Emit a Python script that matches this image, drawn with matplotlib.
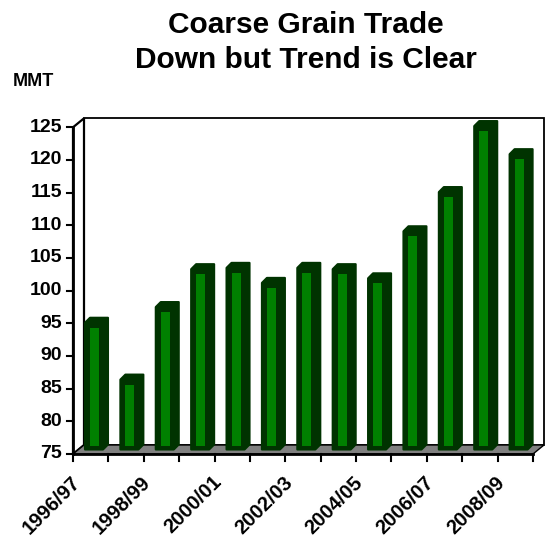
import numpy as np
import matplotlib.pyplot as plt
from matplotlib.patches import Polygon, Rectangle

plt.rcParams['font.family'] = ['Liberation Sans', 'DejaVu Sans']
plt.rcParams['font.weight'] = 'bold'

seasons = ['1996/97', '1997/98', '1998/99', '1999/00', '2000/01', '2001/02', '2002/03',
           '2003/04', '2004/05', '2005/06', '2006/07', '2007/08', '2008/09']
trade = [94.4, 85.7, 96.8, 102.6, 102.8, 100.5, 102.8, 102.6, 101.2, 108.4, 114.4, 124.5, 120.2]
yticks = [75, 80, 85, 90, 95, 100, 105, 110, 115, 120, 125]

dark = '#003300'
bright = '#008000'

fig = plt.figure(figsize=(5.46, 5.39), dpi=100)
ax = fig.add_axes([73/546, 1-454/539, 460/546, 326.7/539])
n = len(seasons)
ax.set_xlim(-0.5, n-0.5)
ax.set_ylim(75, 125)
ax.axis('off')

# pixel -> data scale factors
px_x = n / 460.0
px_y = 50 / 326.7
dxf, dyf = 11*px_x, 9*px_y      # full depth of the box

x0, x1 = -0.5, n-0.5
# back wall
ax.add_patch(Polygon([(x0+dxf, 75+dyf), (x0+dxf, 125+dyf), (x1+dxf, 125+dyf), (x1+dxf, 75+dyf)],
                     closed=True, fc='white', ec='black', lw=1.3, clip_on=False, zorder=1))
# left wall
ax.add_patch(Polygon([(x0, 75), (x0, 125), (x0+dxf, 125+dyf), (x0+dxf, 75+dyf)],
                     closed=True, fc='white', ec='black', lw=1.6, clip_on=False, zorder=1))
# floor
ax.add_patch(Polygon([(x0, 75), (x1, 75), (x1+dxf, 75+dyf), (x0+dxf, 75+dyf)],
                     closed=True, fc='#808080', ec='black', lw=1.0, clip_on=False, zorder=2))
ax.plot([x0, x1], [75, 75], color='black', lw=2, clip_on=False, zorder=6)
ax.plot([x0, x0], [75, 125], color='black', lw=2, clip_on=False, zorder=6)

# bars at mid depth
sx, sy = 3.3*px_x, 4.5*px_y
w = 18*px_x
cx, cy = 5*px_x, 5*px_y
for i, v in enumerate(trade):
    l = i + sx - w/2
    r = l + w
    b = 75 + sy
    t = v + sy
    sil = [(l, b), (l, t), (l+cx, t+cy), (r+cx, t+cy), (r+cx, b+cy), (r, b)]
    ax.add_patch(Polygon(sil, closed=True, fc=dark, ec=dark, lw=1.5, joinstyle='round',
                         clip_on=False, zorder=3))
    ax.add_patch(Rectangle((l+5*px_x, b+3*px_y), 9*px_x, (t-5*px_y)-(b+3*px_y),
                           fc=bright, ec='none', clip_on=False, zorder=4))

# y ticks
for yt in yticks:
    ax.plot([x0-6*px_x, x0], [yt, yt], color='black', lw=1.5, clip_on=False, zorder=6)
    ax.text(x0-11*px_x, yt, str(yt), ha='right', va='center', fontsize=14, fontweight='bold')

# x ticks at category boundaries, labels every other season
for k in range(n+1):
    ax.plot([k-0.5, k-0.5], [75, 75-7*px_y], color='black', lw=1.5, clip_on=False, zorder=6)
for i in range(0, n, 2):
    ax.annotate(seasons[i], (i, 75), xytext=(-7, -21), textcoords='offset points',
                rotation=45, rotation_mode='anchor', ha='right', va='baseline',
                fontsize=14.5, fontweight='bold')

fig.text(306/546, 1-25/539, 'Coarse Grain Trade', ha='center', va='center', fontsize=21.5, fontweight='bold')
fig.text(306/546, 1-60/539, 'Down but Trend is Clear', ha='center', va='center', fontsize=21.5, fontweight='bold')
fig.text(13/546, 1-82/539, 'MMT', ha='left', va='center', fontsize=13, fontweight='bold')

fig.savefig('out.png', dpi=100)
